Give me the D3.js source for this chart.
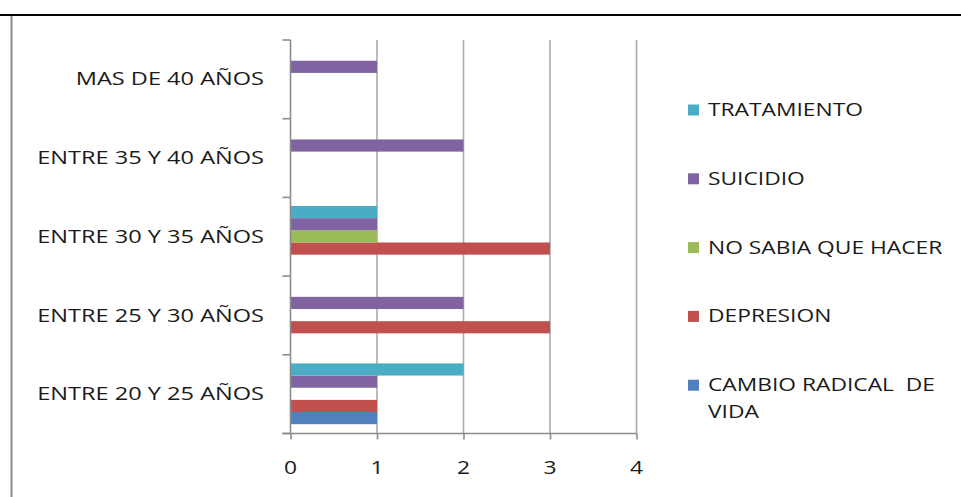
<!DOCTYPE html>
<html>
<head>
<meta charset="utf-8">
<script src="https://cdn.jsdelivr.net/npm/d3@7"></script>
<style>
  html, body { margin: 0; padding: 0; background: #fff; }
  svg { display: block; }
  text { font-family: "Open Sans", sans-serif; fill: #1a1a1a; }
</style>
</head>
<body>
<svg id="chart" width="961" height="497"></svg>
<script>
// Age groups, bottom to top on the chart
const categories = [
  "ENTRE 20 Y 25 AÑOS",
  "ENTRE 25 Y 30 AÑOS",
  "ENTRE 30 Y 35 AÑOS",
  "ENTRE 35 Y 40 AÑOS",
  "MAS DE 40 AÑOS"
];

// One entry per reason, values follow the order of categories
const seriesNames = [
  "CAMBIO RADICAL  DE VIDA",
  "DEPRESION",
  "NO SABIA QUE HACER",
  "SUICIDIO",
  "TRATAMIENTO"
];
const cambioRadical   = [1, 0, 0, 0, 0];
const depresion       = [1, 3, 3, 0, 0];
const noSabiaQueHacer = [0, 0, 1, 0, 0];
const suicidio        = [1, 2, 1, 2, 1];
const tratamiento     = [2, 0, 1, 0, 0];
const seriesValues = [cambioRadical, depresion, noSabiaQueHacer, suicidio, tratamiento];
const seriesColors = ["#4F81BD", "#C0504D", "#9BBB59", "#8064A2", "#4BACC6"];

const xTicks = [0, 1, 2, 3, 4];

const FONT_SIZE = 19;

const svg = d3.select("#chart");

// Place a horizontally stretched text at (x, y)
function label(parent, x, y, str, anchor, stretch) {
  return parent.append("text")
    .attr("transform", `translate(${x},${y}) scale(${stretch || 1.2},1)`)
    .attr("text-anchor", anchor || "start")
    .attr("dominant-baseline", "middle")
    .attr("font-size", FONT_SIZE)
    .attr("xml:space", "preserve")
    .style("white-space", "pre")
    .text(str);
}

// Frame lines around the chart
svg.append("line").attr("x1", 0).attr("x2", 961).attr("y1", 15).attr("y2", 15)
  .attr("stroke", "#000").attr("stroke-width", 2);
svg.append("line").attr("x1", 11.5).attr("x2", 11.5).attr("y1", 16).attr("y2", 497)
  .attr("stroke", "#8c8c8c").attr("stroke-width", 2);

const plot = { left: 290.5, right: 636.5, top: 40, bottom: 433.5 };

const x = d3.scaleLinear().domain([0, 4]).range([plot.left, plot.right]);

// Category bands (first category at the bottom)
const y = d3.scaleBand()
  .domain(categories)
  .range([plot.bottom, plot.top])
  .paddingInner(0).paddingOuter(0);

// Series slots within each category (first series at the bottom)
const inner = d3.scaleBand()
  .domain(seriesNames)
  .range([y.bandwidth() - 9.3, 8.6]);

// Vertical gridlines
svg.append("g").selectAll("line")
  .data(xTicks.slice(1))
  .join("line")
  .attr("x1", d => x(d)).attr("x2", d => x(d))
  .attr("y1", plot.top).attr("y2", plot.bottom)
  .attr("stroke", "#ababab").attr("stroke-width", 1.6);

// Bars
const barsG = svg.append("g");
seriesNames.forEach((name, si) => {
  barsG.selectAll(null)
    .data(categories.map((c, ci) => ({ c, v: seriesValues[si][ci] })).filter(d => d.v > 0))
    .join("rect")
    .attr("x", x(0))
    .attr("y", d => y(d.c) + inner(name))
    .attr("width", d => x(d.v) - x(0))
    .attr("height", inner.bandwidth())
    .attr("fill", seriesColors[si]);
});

// Bottom value axis
const xAxis = d3.axisBottom(x).tickValues(xTicks).tickSize(6).tickFormat(() => "");
const xg = svg.append("g").attr("transform", `translate(0,${plot.bottom})`).call(xAxis);
xg.select(".domain").attr("stroke", "#8c8c8c").attr("stroke-width", 1.6)
  .attr("d", `M${plot.left - 8},0H${plot.right}`);
xg.selectAll(".tick line").attr("stroke", "#8c8c8c").attr("stroke-width", 1.6);
xTicks.forEach(t => label(svg, x(t), 469, String(t), "middle"));

// Left category axis
const yTickPositions = d3.range(categories.length + 1).map(i => plot.bottom - i * y.step());
svg.append("line").attr("x1", plot.left).attr("x2", plot.left)
  .attr("y1", plot.top).attr("y2", plot.bottom)
  .attr("stroke", "#8c8c8c").attr("stroke-width", 1.6);
svg.append("g").selectAll("line")
  .data(yTickPositions)
  .join("line")
  .attr("x1", plot.left - 8).attr("x2", plot.left)
  .attr("y1", d => d).attr("y2", d => d)
  .attr("stroke", "#8c8c8c").attr("stroke-width", 1.6);

categories.forEach(c => label(svg, 264, y(c) + y.bandwidth() / 2 + 1, c, "end", 1.24));

// Legend, listed top to bottom in reverse series order
const legend = svg.append("g");
seriesNames.map((n, i) => ({ n, c: seriesColors[i] })).reverse().forEach((d, k) => {
  const cy = 110 + k * 68.8;
  legend.append("rect")
    .attr("x", 688).attr("y", cy - 5.5)
    .attr("width", 11).attr("height", 11)
    .attr("fill", d.c);
  const lines = d.n === "CAMBIO RADICAL  DE VIDA" ? ["CAMBIO RADICAL  DE", "VIDA"] : [d.n];
  lines.forEach((t, li) => label(legend, 708, cy + li * 26.5 + 1, t, "start"));
});
</script>
</body>
</html>
